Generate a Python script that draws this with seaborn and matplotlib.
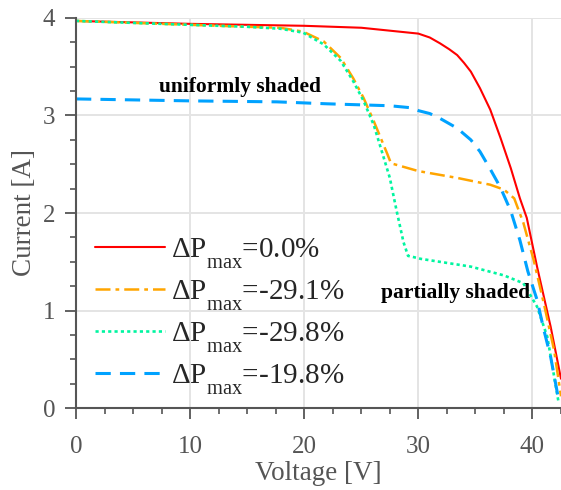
import matplotlib
matplotlib.use("Agg")
import matplotlib.pyplot as plt
import matplotlib._mathtext as _mt
import seaborn as sns
import pandas as pd
from matplotlib.ticker import MultipleLocator

# ---- data ----
red_v = [0, 10, 20, 25, 27.5, 30, 31.0, 31.9, 32.7, 33.4, 34.0, 34.6, 35.4, 36.3, 37.2, 38.1, 38.9, 39.5, 40.4, 41.6, 42.5]
red_i = [3.97, 3.94, 3.92, 3.90, 3.87, 3.84, 3.80, 3.74, 3.68, 3.62, 3.54, 3.45, 3.28, 3.06, 2.77, 2.46, 2.15, 1.95, 1.45, 0.83, 0.30]

orange_v = [0, 5, 10, 15, 17.9, 19.9, 21.7, 23.2, 24.3, 25.2, 26.1, 26.7, 27.3, 27.6, 30, 33.4, 36.3, 37.5, 38.4, 39.2, 40.1, 41.0, 41.9, 42.5]
orange_i = [3.97, 3.95, 3.93, 3.91, 3.90, 3.86, 3.76, 3.59, 3.38, 3.18, 2.94, 2.77, 2.60, 2.51, 2.43, 2.36, 2.29, 2.24, 2.15, 1.90, 1.52, 1.07, 0.59, 0.12]

green_v = [0, 5, 10, 15, 17.9, 19.9, 21.7, 23.2, 24.3, 25.2, 26.1, 26.7, 27.5, 28.1, 28.7, 29.1, 29.5, 30.2, 34.6, 37.5, 39.2, 40.4, 41.3, 42.3]
green_i = [3.97, 3.95, 3.93, 3.91, 3.89, 3.85, 3.73, 3.56, 3.35, 3.15, 2.90, 2.67, 2.36, 2.02, 1.70, 1.56, 1.55, 1.53, 1.45, 1.36, 1.28, 1.04, 0.73, 0.05]

blue_v = [0, 5, 10, 17.6, 22, 27.5, 29.3, 30, 31.0, 31.9, 33.4, 34.6, 35.4, 36.3, 37.2, 38.1, 38.9, 39.6, 40.4, 41.0, 41.6, 42.3]
blue_i = [3.17, 3.16, 3.15, 3.14, 3.12, 3.10, 3.08, 3.05, 3.02, 2.97, 2.87, 2.75, 2.63, 2.45, 2.26, 2.02, 1.72, 1.40, 1.11, 0.80, 0.52, 0.08]

labels = [r"$\mathrm{\Delta P_{max}}$=0.0%",
          r"$\mathrm{\Delta P_{max}}$=-29.1%",
          r"$\mathrm{\Delta P_{max}}$=-29.8%",
          r"$\mathrm{\Delta P_{max}}$=-19.8%"]

x_label = "Voltage [V]"
y_label = "Current [A]"
x_ticks = [0, 10, 20, 30, 40]
y_ticks = [0, 1, 2, 3, 4]

# deeper subscripts, like the reference legend
_mt.FontConstantsBase.sub1 = 0.8
_mt.FontConstantsBase.sub2 = 0.8

# ---- style ----
sns.set_style("white")
plt.rcParams["font.family"] = ["Liberation Serif", "DejaVu Serif"]
plt.rcParams["mathtext.fontset"] = "custom"
plt.rcParams["mathtext.rm"] = "Liberation Serif"
plt.rcParams["mathtext.it"] = "Liberation Serif:italic"
plt.rcParams["mathtext.bf"] = "Liberation Serif:bold"

fig = plt.figure(figsize=(5.61, 4.90), dpi=100)
ax = fig.add_axes([76/561, 82/490, 485/561, 390/490])

series = [
    (red_v, red_i, "#ff0000", "-", 1.5),
    (orange_v, orange_i, "#ffa500", (0, (6, 2, 1.5, 2)), 1.8),
    (green_v, green_i, "#00f5a0", (0, (1.2, 1.2)), 1.9),
    (blue_v, blue_i, "#00a2ff", (0, (5, 3)), 2.2),
]
for (v, i, c, ls, lw), lab in zip(series, labels):
    df = pd.DataFrame({"V": v, "I": i})
    sns.lineplot(data=df, x="V", y="I", ax=ax, color=c, linestyle=ls,
                 linewidth=lw, label=lab, sort=False)

ax.set_xlim(0, 42.5)
ax.set_ylim(0, 4)
ax.set_xticks(x_ticks)
ax.set_yticks(y_ticks)
ax.xaxis.set_minor_locator(MultipleLocator(2.5))
ax.yaxis.set_minor_locator(MultipleLocator(0.25))
ax.grid(True, which="major", color="#e4e4e4", linewidth=1.4)
ax.set_axisbelow(True)

for s in ["top", "right"]:
    ax.spines[s].set_visible(False)
for s in ["left", "bottom"]:
    ax.spines[s].set_color("#555555")
    ax.spines[s].set_linewidth(1.5)

ax.tick_params(which="major", direction="out", length=8, width=1.3,
               color="#555555", labelcolor="#555555", labelsize=18)
ax.tick_params(axis="x", which="major", pad=12)
ax.tick_params(axis="y", which="major", pad=7)
ax.tick_params(which="minor", direction="out", length=4.5, width=1.2,
               color="#555555")
ax.tick_params(axis="y", which="both", left=True)
ax.tick_params(axis="x", which="both", bottom=True)

ax.set_xlabel(x_label, fontsize=19.5, color="#555555", labelpad=2)
ax.set_ylabel(y_label, fontsize=19.5, color="#555555", labelpad=4)

ax.text(14.4, 3.24, "uniformly shaded", fontsize=15.5, fontweight="bold",
        ha="center", va="baseline", color="black")
ax.text(33.25, 1.13, "partially shaded", fontsize=15.5, fontweight="bold",
        ha="center", va="baseline", color="black")

leg = ax.legend(loc="upper left", bbox_to_anchor=(0.039, 0.44), frameon=False,
                fontsize=21, handlelength=2.4, handletextpad=0.2,
                labelspacing=0.27, borderaxespad=0, borderpad=0)

fig.savefig("out.png", dpi=100)
